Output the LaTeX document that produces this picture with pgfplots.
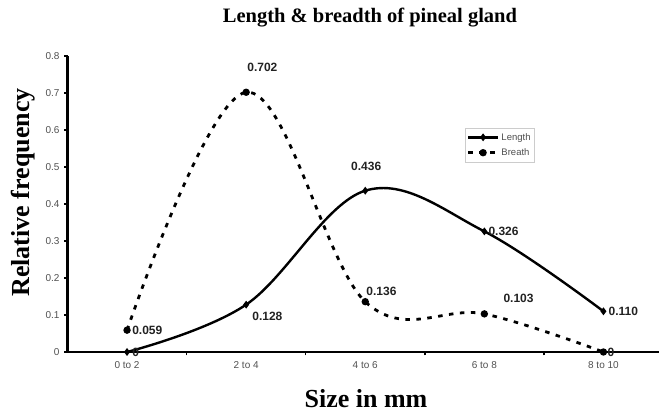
\documentclass[border=0pt]{standalone}
\usepackage{fontspec}
\setmainfont{Liberation Serif}
\newfontfamily\arial{Liberation Sans}
\usepackage{pgfplots}
\pgfplotsset{compat=1.18}
\definecolor{tickgray}{HTML}{505050}
\definecolor{lblgray}{HTML}{222222}
\tikzset{lab/.style={font=\arial\bfseries\fontsize{12}{14}\selectfont, text=lblgray, inner sep=0pt}}
\begin{document}
\begin{tikzpicture}[x=1pt,y=1pt]
\useasboundingbox (0,0) rectangle (659,414);
\node[anchor=base, font=\fontsize{20.5}{24}\selectfont\bfseries] at (370,391) {Length \& breadth of pineal gland};
\node[anchor=base, rotate=90, font=\fontsize{26}{30}\selectfont\bfseries] at (29,221.5) {Relative frequency};
\node[anchor=base, font=\fontsize{26}{30}\selectfont\bfseries] at (366,6) {Size in mm};
\begin{axis}[
  at={(67.5pt,62pt)}, anchor=south west,
  scale only axis, width=595.5pt, height=296pt,
  xmin=-0.5, xmax=4.5, ymin=0, ymax=0.8,
  axis x line=bottom, axis y line=left,
  axis line style={-, line width=2.2pt, black},
  xtick={0,1,2,3,4},
  xticklabels={0 to 2,2 to 4,4 to 6,6 to 8,8 to 10},
  major x tick style={draw=none},
  minor xtick={0.5,1.5,2.5,3.5},
  minor tick length=3.5pt,
  minor tick style={black, line width=1.5pt},
  ytick={0,0.1,0.2,0.3,0.4,0.5,0.6,0.7,0.8},
  yticklabels={0,0.1,0.2,0.3,0.4,0.5,0.6,0.7,0.8},
  tick align=outside,
  major tick length=3.5pt,
  major y tick style={black, line width=1.5pt},
  ticklabel style={font=\arial\fontsize{10}{12}\selectfont, text=tickgray},
  /pgf/number format/assume math mode=true,
  xticklabel style={yshift=-2pt},
  yticklabel style={xshift=-1pt},
  clip=false,
  legend style={at={(0.6675,0.757)}, anchor=north west, draw=gray!40,
    font=\arial\fontsize{9.5}{11}\selectfont, text=tickgray,
    inner xsep=1.5pt, inner ysep=3pt, row sep=3pt,
    cells={anchor=west}},
  legend image code/.code={\draw[mark repeat=2,mark phase=2,#1] plot coordinates {(0pt,0pt) (15pt,0pt) (30pt,0pt)};},
]
\addplot[black, line width=2.4pt, smooth, tension=0.6, mark=diamond*, mark size=2pt]
  coordinates {(0,0) (1,0.128) (2,0.436) (3,0.326) (4,0.110)};
\addlegendentry{Length}
\addplot[black, line width=2.8pt, dash pattern=on 4.5pt off 6.5pt, smooth, tension=0.6, mark=*, mark size=2.2pt, mark options={solid}]
  coordinates {(0,0.059) (1,0.702) (2,0.136) (3,0.103) (4,0)};
\addlegendentry{Breath}
\node[lab, anchor=west, xshift=5pt] at (axis cs:0,0.059) {0.059};
\node[lab, anchor=west, xshift=5pt] at (axis cs:0,0) {0};
\node[lab, anchor=west, xshift=6pt, yshift=-12pt] at (axis cs:1,0.128) {0.128};
\node[lab, anchor=west, xshift=1pt, yshift=25pt] at (axis cs:1,0.702) {0.702};
\node[lab, xshift=1pt, yshift=24pt] at (axis cs:2,0.436) {0.436};
\node[lab, anchor=west, xshift=1pt, yshift=10pt] at (axis cs:2,0.136) {0.136};
\node[lab, anchor=west, xshift=4pt] at (axis cs:3,0.326) {0.326};
\node[lab, anchor=west, xshift=19pt, yshift=16pt] at (axis cs:3,0.103) {0.103};
\node[lab, anchor=west, xshift=5pt] at (axis cs:4,0.110) {0.110};
\node[lab, anchor=west, xshift=4pt] at (axis cs:4,0) {0};
\end{axis}
\end{tikzpicture}
\end{document}
